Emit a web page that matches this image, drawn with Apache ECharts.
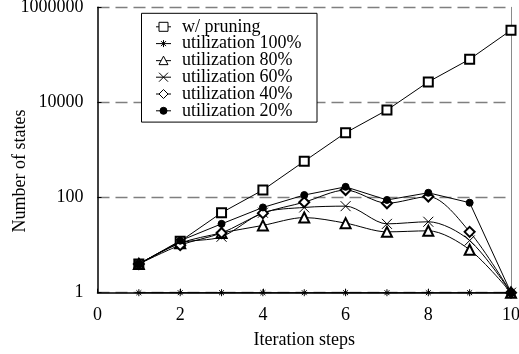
<!DOCTYPE html>
<html>
<head>
<meta charset="utf-8">
<script src="https://cdn.jsdelivr.net/npm/echarts@6/dist/echarts.min.js"></script>
<style>
html,body{margin:0;padding:0;background:#fff;}
#c{width:519px;height:354px;}
</style>
</head>
<body>
<div id="c"></div>
<script>
var steps = [1, 2, 3, 4, 5, 6, 7, 8, 9, 10];
var xTicks = [0, 2, 4, 6, 8, 10];
var yTicks = [1, 100, 10000, 1000000];
var pruning = [4, 12, 48, 144, 580, 2300, 6900, 27000, 81000, 330000];
var util100 = [1, 1, 1, 1, 1, 1, 1, 1, 1, 1];
var util80 = [4, 11, 18, 26, 38, 29, 19, 20, 8, 1];
var util60 = [4, 11, 15, 48, 62, 66, 28, 31, 12.5, 1];
var util40 = [4, 10, 18, 47, 80, 144, 76, 105, 19, 1];
var util20 = [4, 12.4, 28, 62, 113, 168, 89, 126, 78, 1];
var names = ['w/ pruning', 'utilization 100%', 'utilization 80%', 'utilization 60%', 'utilization 40%', 'utilization 20%'];

var FONT = "'Liberation Serif', 'Times New Roman', serif";
function pairs(arr) { return steps.map(function (s, i) { return [s, arr[i]]; }); }

var ASTER = 'path://M0,5L10,5M5,0L5,10M1.5,1.5L8.5,8.5M8.5,1.5L1.5,8.5';
var CROSS = 'path://M0,0L10,10M10,0L0,10';

// legend icons: line sample + marker (15 x 9)
var legendIcons = [
  'path://M0,4.5L3,4.5M12,4.5L15,4.5M3,0L12,0L12,9L3,9Z',
  'path://M0,4.5L15,4.5M7.5,1L7.5,8M5,2L10,7M10,2L5,7',
  'path://M0,4.5L5.1,4.5M9.9,4.5L15,4.5M7.5,0L12,8.5L3,8.5Z',
  'path://M0,4.5L15,4.5M3,0L12,9M12,0L3,9',
  'path://M0,4.5L3,4.5M12,4.5L15,4.5M7.5,0L12,4.5L7.5,9L3,4.5Z',
  'path://M0,4.5L15,4.5M4,4.5A3.5,3.5 0 1 1 11,4.5A3.5,3.5 0 1 1 4,4.5Z'
];
var legendFill = ['#fff', '#fff', '#fff', '#fff', '#fff', '#000'];

function mk(name, data, symbol, size, smooth) {
  return {
    name: name,
    type: 'line',
    data: pairs(data),
    symbol: symbol,
    symbolSize: size,
    smooth: smooth,
    showAllSymbol: true,
    lineStyle: { color: '#000', width: 1 },
    itemStyle: { color: '#000', borderColor: '#000', borderWidth: 1 },
    emphasis: { disabled: true },
    animation: false,
    z: 3
  };
}

var chart = echarts.init(document.getElementById('c'), null, { renderer: 'canvas' });
chart.setOption({
  animation: false,
  backgroundColor: '#fff',
  textStyle: { fontFamily: FONT },
  grid: { left: 97.5, right: 8, top: 7.3, bottom: 61.3, containLabel: false, outerBoundsMode: 'none' },
  legend: {
    data: names.map(function (n, i) {
      return { name: n, icon: legendIcons[i], itemStyle: { color: legendFill[i], borderColor: '#000', borderWidth: 1 } };
    }),
    orient: 'vertical',
    left: 141.5,
    top: 13.3,
    padding: [4.5, 0, 2.3, 14],
    itemWidth: 15,
    itemHeight: 9,
    itemGap: -1.2,
    z: 20,
    backgroundColor: '#fff',
    borderColor: '#000',
    borderWidth: 1,
    borderRadius: 0,
    symbolKeepAspect: true,
    textStyle: { fontFamily: FONT, fontSize: 18, color: '#000', lineHeight: 17, width: 135, padding: [0, 0, 0, 6] },
    selectedMode: false
  },
  xAxis: {
    type: 'value',
    min: 0,
    max: 10,
    interval: 2,
    name: 'Iteration steps',
    nameLocation: 'middle',
    nameGap: 39,
    nameTextStyle: { fontFamily: FONT, fontSize: 18, color: '#000' },
    axisLine: { lineStyle: { color: '#000', width: 1.5 } },
    axisTick: { show: true, inside: true, length: 4, lineStyle: { color: '#000' } },
    axisLabel: { fontFamily: FONT, fontSize: 18, color: '#000', margin: 14, showMaxLabel: true },
    splitLine: { show: false }
  },
  yAxis: [{
    type: 'log',
    logBase: 100,
    min: yTicks[0],
    max: yTicks[yTicks.length - 1],
    axisLine: { show: true, lineStyle: { color: '#000', width: 1.5 } },
    axisTick: { show: true, inside: true, length: 4, lineStyle: { color: '#000' } },
    axisLabel: {
      fontFamily: FONT, fontSize: 18, color: '#000', margin: 14,
      formatter: function (v) { return String(Math.round(v)); }
    },
    splitLine: { show: true, lineStyle: { color: '#7f7f7f', width: 1.3, type: [12, 6] } }
  }, {
    type: 'log',
    logBase: 100,
    min: yTicks[0],
    max: yTicks[yTicks.length - 1],
    position: 'right',
    axisLine: { show: true, lineStyle: { color: '#8a8a8a', width: 1 } },
    axisTick: { show: false },
    axisLabel: { show: false },
    splitLine: { show: false }
  }],
  graphic: [{
    type: 'text',
    x: 20,
    y: 171,
    rotation: Math.PI / 2,
    style: { text: 'Number of states', font: "18px 'Liberation Serif', 'Times New Roman', serif", fill: '#000', align: 'center', verticalAlign: 'middle' }
  }],
  series: [
    mk(names[0], pruning, 'emptyRect', 9, false),
    mk(names[1], util100, ASTER, 7, false),
    mk(names[2], util80, 'emptyTriangle', 10, 0.3),
    mk(names[3], util60, CROSS, 10, 0.3),
    mk(names[4], util40, 'emptyDiamond', 10, 0.3),
    mk(names[5], util20, 'circle', 7, false)
  ]
});
</script>
</body>
</html>
